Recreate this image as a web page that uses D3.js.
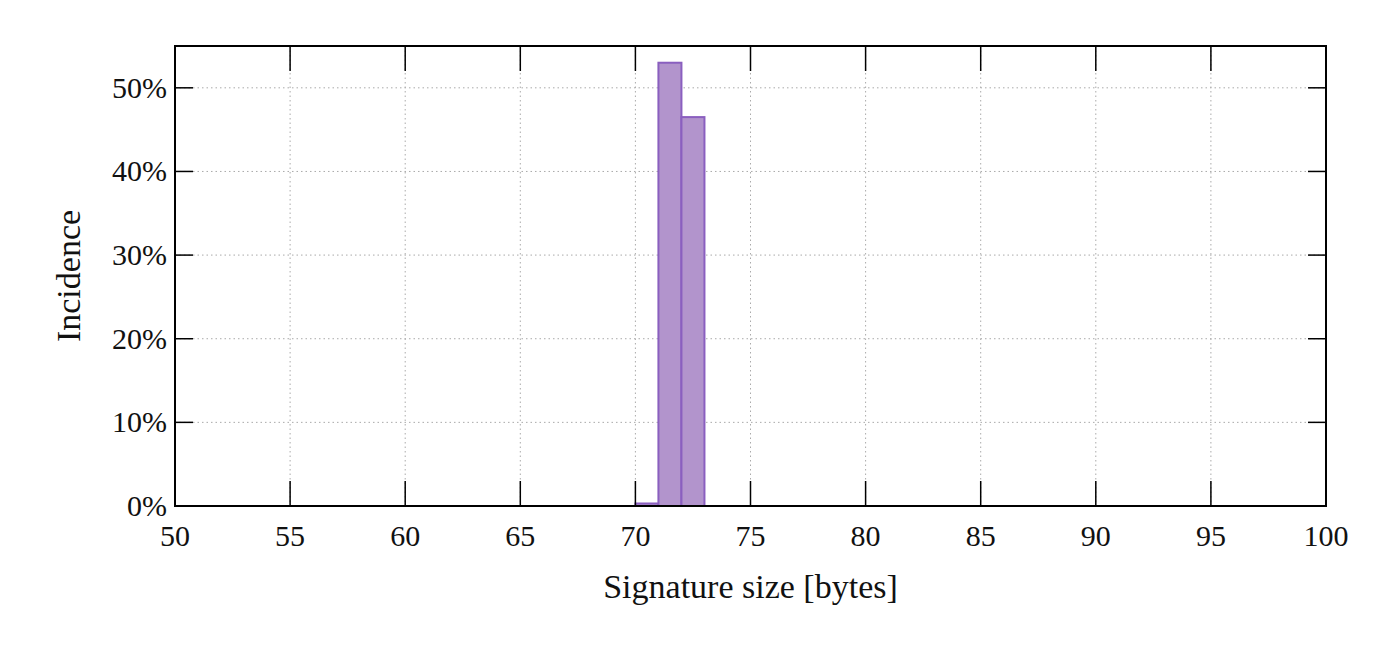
<!DOCTYPE html><html><head><meta charset="utf-8"><script src="https://cdn.jsdelivr.net/npm/d3@7"></script>
<style>body{margin:0;background:#fff}text{font-family:"Liberation Serif",serif;fill:#111}</style></head><body><svg width="1400" height="663"></svg><script>
const binStarts=[70,71,72];
const incidence=[0.3,53.0,46.5];
const xTicks=[50,55,60,65,70,75,80,85,90,95,100];
const yTicks=[0,10,20,30,40,50];
const svg=d3.select("svg");
const L=175,R=1326,T=46,B=506;
const x=d3.scaleLinear().domain([50,100]).range([L,R]);
const y=d3.scaleLinear().domain([0,55]).range([B,T]);
const g=svg.append("g");
xTicks.slice(1,-1).forEach(t=>g.append("line").attr("x1",x(t)).attr("x2",x(t)).attr("y1",T).attr("y2",B).attr("stroke","#aaa").attr("stroke-dasharray","1.5,3"));
yTicks.slice(1).forEach(t=>g.append("line").attr("x1",L).attr("x2",R).attr("y1",y(t)).attr("y2",y(t)).attr("stroke","#aaa").attr("stroke-dasharray","1.5,3"));
binStarts.forEach((s,i)=>g.append("rect").attr("x",x(s)).attr("width",x(s+1)-x(s)).attr("y",y(incidence[i])).attr("height",B-y(incidence[i])).attr("fill","#b294cc").attr("stroke","#8a5fbf").attr("stroke-width",2));
xTicks.forEach(t=>{g.append("line").attr("x1",x(t)).attr("x2",x(t)).attr("y1",B).attr("y2",B-25).attr("stroke","#000").attr("stroke-width",1.5);
g.append("line").attr("x1",x(t)).attr("x2",x(t)).attr("y1",T).attr("y2",T+25).attr("stroke","#000").attr("stroke-width",1.5);
g.append("text").attr("x",x(t)).attr("y",B+40).attr("text-anchor","middle").attr("font-size",30).text(t);});
yTicks.forEach(t=>{g.append("line").attr("x1",L).attr("x2",L+18).attr("y1",y(t)).attr("y2",y(t)).attr("stroke","#000").attr("stroke-width",1.5);
g.append("line").attr("x1",R).attr("x2",R-18).attr("y1",y(t)).attr("y2",y(t)).attr("stroke","#000").attr("stroke-width",1.5);
g.append("text").attr("x",L-8).attr("y",y(t)+10).attr("text-anchor","end").attr("font-size",30).text(t+"%");});
g.append("rect").attr("x",L).attr("y",T).attr("width",R-L).attr("height",B-T).attr("fill","none").attr("stroke","#000").attr("stroke-width",2);
g.append("text").attr("x",(L+R)/2).attr("y",598).attr("text-anchor","middle").attr("font-size",34).text("Signature size [bytes]");
g.append("text").attr("transform",`translate(80,${(T+B)/2}) rotate(-90)`).attr("text-anchor","middle").attr("font-size",34).text("Incidence");
</script></body></html>
